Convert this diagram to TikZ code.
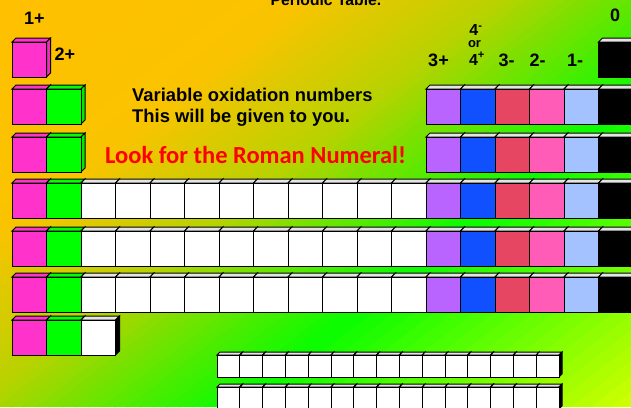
\documentclass[tikz,border=0pt]{standalone}
\usepackage{fontspec}
\setmainfont{Liberation Sans}
\newfontfamily\carlito{Carlito}
\definecolor{cmag}{RGB}{255,51,204}
\definecolor{cgrn}{RGB}{0,255,0}
\definecolor{cpur}{RGB}{185,100,255}
\definecolor{cblu}{RGB}{16,80,255}
\definecolor{cred}{RGB}{230,70,98}
\definecolor{cpnk}{RGB}{255,92,184}
\definecolor{clbl}{RGB}{164,194,255}
\definecolor{ctop}{RGB}{228,228,228}
\definecolor{bgA}{RGB}{255,192,0}
\definecolor{bgB}{RGB}{250,195,0}
\definecolor{bgC}{RGB}{185,210,0}
\definecolor{bgD}{RGB}{10,252,0}
\definecolor{bgE}{RGB}{210,255,0}
\tikzset{
  cubeline/.style={draw=black,line width=1pt,line join=miter},
  lab/.style={inner sep=0pt,font=\fontsize{18}{20}\selectfont\bfseries},
  labfour/.style={inner sep=0pt,anchor=base,font=\fontsize{16}{18}\selectfont\bfseries},
  labsmall/.style={inner sep=0pt,anchor=base,font=\fontsize{13}{15}\selectfont\bfseries},
}
% x y w h depth front top side
\newcommand\mycube[8]{%
  \filldraw[cubeline,fill=#7] (#1,#2) -- ++(#5,-#5) -- ++(#3,0) -- ++(-#5,#5) -- cycle;
  \filldraw[cubeline,fill=#8] (#1+#3,#2) -- ++(#5,-#5) -- ++(0,#4) -- ++(-#5,#5) -- cycle;
  \filldraw[cubeline,fill=#6] (#1,#2) rectangle ++(#3,#4);
}
\begin{document}
\begin{tikzpicture}[x=1pt,y=-1pt]
\useasboundingbox (0,0) rectangle (631,407);
\clip (0,0) rectangle (631,407);
% background gradient (strips along x+1.3y)
\foreach \a/\b/\ca/\cb in {0/300/bgA/bgB,300/500/bgB/bgC,500/760/bgC/bgD,760/1160/bgD/bgE}{
  \foreach \k in {0,...,19}{
    \pgfmathsetmacro\sa{\a+(\b-\a)*\k/20}
    \pgfmathsetmacro\sb{\a+(\b-\a)*(\k+1)/20+1.5}
    \pgfmathtruncatemacro\pc{100*(\k+0.5)/20}
    \fill[\cb!\pc!\ca] (\sa,0) -- (\sb,0) -- (\sb-529,407) -- (\sa-529,407) -- cycle;
  }
}
% row 0
\mycube{12}{42}{34.5}{35}{4}{cmag}{cmag}{cmag!92!black}
\mycube{598.5}{42}{34.5}{35}{4}{black}{ctop}{black}
% rows 1,2
\foreach \y in {89,137}{
  \mycube{12}{\y}{34.5}{35}{4}{cmag}{cmag}{cmag!92!black}
  \mycube{46.5}{\y}{34.5}{35}{4}{cgrn}{cgrn}{cgrn!92!black}
  \foreach \c [count=\k from 12] in {cpur,cblu,cred,cpnk,clbl,black}{
    \mycube{12+34.5*\k}{\y}{34.5}{35}{4}{\c}{ctop}{black}
  }
}
% rows 3-5
\foreach \y in {183,231,277}{
  \mycube{12}{\y}{34.5}{35}{4}{cmag}{cmag}{cmag!92!black}
  \mycube{46.5}{\y}{34.5}{35}{4}{cgrn}{cgrn}{cgrn!92!black}
  \foreach \k in {2,...,11}{
    \mycube{12+34.5*\k}{\y}{34.5}{35}{4}{white}{ctop}{black}
  }
  \foreach \c [count=\k from 12] in {cpur,cblu,cred,cpnk,clbl,black}{
    \mycube{12+34.5*\k}{\y}{34.5}{35}{4}{\c}{ctop}{black}
  }
}
% row 6
\mycube{12}{320}{34.5}{35}{4}{cmag}{cmag}{cmag!92!black}
\mycube{46.5}{320}{34.5}{35}{4}{cgrn}{cgrn}{cgrn!92!black}
\mycube{81}{320}{34.5}{35}{4}{white}{ctop}{black}
% lanthanides / actinides
\foreach \y in {355,387}{
  \foreach \j in {0,...,14}{
    \mycube{217+22.8*\j}{\y}{22.8}{22}{3}{white}{ctop}{black}
  }
}
% labels
\node[lab] (l1) at (34.5,18) {1+};
\node[lab] (l2) at (65,54.5) {2+};
\node[lab] (l0) at (615,15) {0};
\node[lab] (l3p) at (438.5,60) {3+};
\node[labfour] (l4m) at (476,35.7) {4\textsuperscript{-}};
\node[labsmall] (lor) at (474.5,47) {or};
\node[labfour] (l4p) at (477,65) {4\textsuperscript{+}};
\node[lab] (l3m) at (506.5,60) {3-};
\node[lab] (l2m) at (537.5,60) {2-};
\node[lab] (l1m) at (575,60) {1-};
\node[anchor=base,inner sep=0pt,font=\fontsize{15.7}{18}\selectfont\bfseries] (pt) at (326,5.5) {Periodic Table.};
\node[anchor=base west,inner sep=0pt,font=\fontsize{18.4}{20}\selectfont\bfseries] (v1) at (132,101) {Variable oxidation numbers};
\node[anchor=base west,inner sep=0pt,font=\fontsize{18.4}{20}\selectfont\bfseries] (v2) at (132,122.5) {This will be given to you.};
\node[anchor=base west,inner sep=0pt,text=red,font=\fontsize{24.5}{28}\selectfont\carlito\bfseries] (rn) at (105,163) {Look for the Roman Numeral!};
\end{tikzpicture}
\end{document}
